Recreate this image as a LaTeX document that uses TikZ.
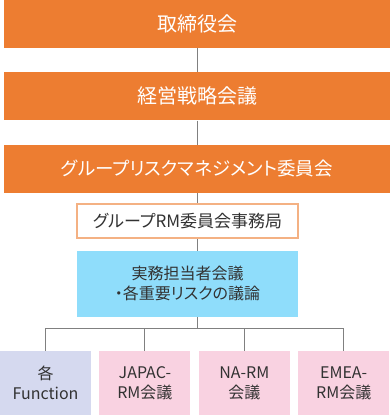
\documentclass[tikz,border=0pt]{standalone}
\usepackage{fontspec}
\setmainfont{Noto Sans CJK JP}[RawFeature=+palt]
\usepackage{tikz}
\usetikzlibrary{positioning, backgrounds}
\definecolor{orgfill}{RGB}{237,125,49}
\definecolor{orgline}{RGB}{244,177,131}
\definecolor{bluefill}{RGB}{143,221,251}
\definecolor{pinkfill}{RGB}{249,210,225}
\definecolor{lavfill}{RGB}{213,217,239}
\definecolor{txtdark}{RGB}{50,50,50}
\definecolor{conngray}{RGB}{128,128,128}
\tikzset{
  topbox/.style={rectangle, fill=orgfill, text=white,
    minimum width=386pt, minimum height=48pt, inner sep=0pt,
    font=\fontsize{20}{24}\selectfont},
  officebox/.style={rectangle, draw=orgline, fill=white, text=txtdark,
    minimum width=221pt, minimum height=34pt, inner sep=0pt,
    line width=1.5pt, font=\fontsize{17}{20}\selectfont},
  meetbox/.style={rectangle, fill=bluefill, text=txtdark,
    minimum width=221pt, minimum height=66pt, inner sep=0pt,
    align=center, font=\fontsize{16}{20}\selectfont},
  unitbox/.style={rectangle, fill=pinkfill, text=txtdark,
    minimum width=91pt, minimum height=64pt, inner sep=0pt,
    align=center, font=\fontsize{16}{20}\selectfont},
  conn/.style={draw=conngray, line width=1pt}
}

\begin{document}
\begin{tikzpicture}[x=1pt, y=1pt, node distance=24pt and 8pt]
  \useasboundingbox (0,0) rectangle (390,-415);

  % Governance chain
  \node[topbox] (board) at (197,-24) {取締役会};
  \node[topbox, below=of board] (mgmt) {経営戦略会議};
  \node[topbox, below=of mgmt, font=\fontsize{18.5}{22}\selectfont] (grmc) {グループリスクマネジメント委員会};
  \node[officebox] (office) at (187.5,-221) {グループRM委員会事務局};
  \node[meetbox, below=12pt of office] (staff) {実務担当者会議\\・各重要リスクの議論};

  % Regional meetings
  \node[unitbox, fill=lavfill] (func) at (45.5,-383) {各\\Function};
  \node[unitbox, right=of func] (japac) {JAPAC-\\RM会議};
  \node[unitbox, right=of japac] (narm) {NA-RM\\会議};
  \node[unitbox, right=of narm] (emea) {EMEA-\\RM会議};

  \begin{scope}[on background layer]
    \draw[conn] (board) -- (mgmt);
    \draw[conn] (mgmt) -- (grmc);
    \draw[conn] (grmc.south) -- (grmc.south |- 0,-328) coordinate (bus);
    \draw[conn] (func.north |- bus) -- (emea.north |- bus);
    \foreach \u in {func, japac, narm, emea}
      \draw[conn] (\u.north |- bus) -- (\u.north);
  \end{scope}
\end{tikzpicture}
\end{document}
